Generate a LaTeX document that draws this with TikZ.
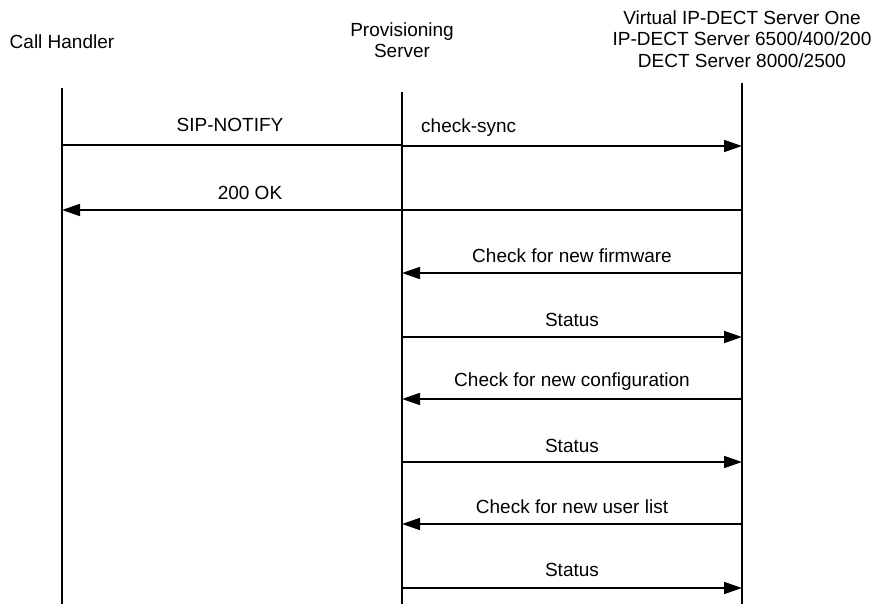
\documentclass[tikz,border=0pt]{standalone}
\usepackage{fontspec}
\setmainfont{Liberation Sans}
\usetikzlibrary{arrows.meta}
\begin{document}
\begin{tikzpicture}[x=1pt,y=-1pt,
  life/.style={line width=1.7pt},
  msg/.style={line width=1.7pt,-{Triangle[length=18pt,width=12pt]}},
  plain/.style={line width=1.7pt},
  lbl/.style={font=\fontsize{19}{22}\selectfont,inner sep=0pt},
  head/.style={font=\fontsize{19}{21.5}\selectfont,align=center,inner sep=0pt}]
\useasboundingbox (0,0) rectangle (876,604);
% headers
\node[head] (hA) at (62,42) {Call Handler};
\node[head] (hB) at (402,40) {Provisioning\\Server};
\node[head] (hC) at (742,39) {Virtual IP-DECT Server One\\IP-DECT Server 6500/400/200\\DECT Server 8000/2500};
% lifeline ends
\coordinate (a0) at (62,88);  \coordinate (a1) at (62,604);
\coordinate (b0) at (402,92); \coordinate (b1) at (402,604);
\coordinate (c0) at (742,83); \coordinate (c1) at (742,604);
\draw[life] (a0) -- (a1);
\draw[life] (b0) -- (b1);
\draw[life] (c0) -- (c1);
% message anchors
\coordinate (a145) at (62,145); \coordinate (b145) at (402,145); \coordinate (c145) at (742,146);
\coordinate (b146) at (402,146);
\coordinate (a210) at (62,210); \coordinate (c210) at (742,210);
\coordinate (b273) at (402,273); \coordinate (c273) at (742,273);
\coordinate (b337) at (402,337); \coordinate (c337) at (742,337);
\coordinate (b399) at (402,399); \coordinate (c399) at (742,399);
\coordinate (b462) at (402,462); \coordinate (c462) at (742,462);
\coordinate (b524) at (402,524); \coordinate (c524) at (742,524);
\coordinate (b588) at (402,588); \coordinate (c588) at (742,588);
% messages
\draw[plain] (a145) -- (b145);
\node[lbl] (m1) at (230,125) {SIP-NOTIFY};
\draw[msg] (b146) -- (c145);
\node[lbl,anchor=west] (m2) at (421,128) {check-sync};
\draw[msg] (c210) -- (a210);
\node[lbl] (m3) at (250,193) {200 OK};
\draw[msg] (c273) -- (b273);
\node[lbl] (m4) at (572,256) {Check for new firmware};
\draw[msg] (b337) -- (c337);
\node[lbl] (m5) at (572,320) {Status};
\draw[msg] (c399) -- (b399);
\node[lbl] (m6) at (572,382) {Check for new configuration};
\draw[msg] (b462) -- (c462);
\node[lbl] (m7) at (572,446) {Status};
\draw[msg] (c524) -- (b524);
\node[lbl] (m8) at (572,507) {Check for new user list};
\draw[msg] (b588) -- (c588);
\node[lbl] (m9) at (572,570) {Status};
\end{tikzpicture}
\end{document}
